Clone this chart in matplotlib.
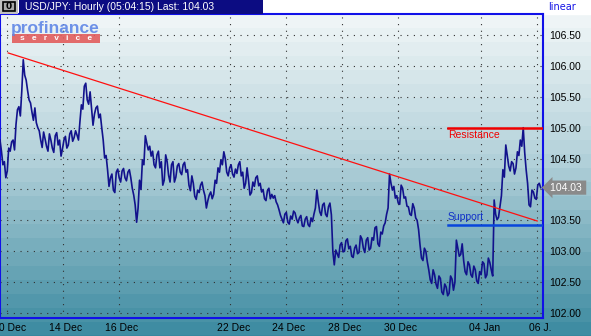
import numpy as np
import matplotlib.pyplot as plt
from matplotlib.patches import Rectangle
from matplotlib.colors import LinearSegmentedColormap
import matplotlib.transforms as mtransforms

# dane: kurs USD/JPY, godziny handlowe od 10 Dec 00:00
t_start = -6.0
t_step = 1.25
# odczyty co 2.5 h
price = [
    104.80, 104.40, 104.19, 104.67, 104.77, 104.64, 105.29, 105.19, 106.10, 105.77,
    105.45, 105.25, 105.32, 105.00, 104.80, 104.93, 104.70, 104.90, 104.67, 104.87,
    104.72, 104.54, 104.80, 104.67, 104.90, 104.78, 104.95, 104.80, 105.37, 105.67,
    105.45, 105.58, 105.04, 105.32, 105.16, 105.00, 104.51, 104.32, 104.19, 103.99,
    104.28, 104.19, 104.30, 104.19, 104.28, 104.19, 103.91, 103.47, 104.15, 104.48,
    104.87, 104.64, 104.54, 104.40, 104.56, 104.35, 104.07, 104.56, 104.23, 104.40,
    104.12, 104.38, 104.28, 104.40, 104.28, 104.07, 104.22, 103.89, 103.99, 104.07,
    103.99, 103.70, 103.91, 103.85, 104.15, 104.35, 104.48, 104.61, 104.28, 104.35,
    104.25, 104.33, 104.40, 104.22, 104.02, 104.35, 103.91, 104.12, 104.19, 104.06,
    103.96, 103.85, 103.98, 103.85, 103.86, 103.80, 103.67, 103.52, 103.60, 103.47,
    103.57, 103.65, 103.52, 103.54, 103.41, 103.52, 103.43, 103.54, 103.60, 103.99,
    103.64, 103.75, 103.60, 103.72, 103.59, 102.78, 102.96, 103.10, 102.99, 103.17,
    103.04, 102.92, 103.05, 102.96, 103.25, 103.05, 103.18, 103.02, 103.22, 103.38,
    103.12, 103.31, 103.41, 103.60, 104.25, 103.99, 103.86, 103.78, 104.07, 103.86,
    103.73, 103.60, 103.77, 103.54, 103.35, 102.89, 103.05, 102.83, 102.54, 102.70,
    102.47, 102.60, 102.34, 102.47, 102.28, 102.60, 102.37, 103.18, 102.92, 103.12,
    102.67, 102.83, 102.62, 102.76, 102.52, 102.67, 102.83, 102.57, 102.89, 102.70,
    103.83, 103.51, 103.73, 104.32, 104.72, 104.38, 104.45, 104.25, 104.61, 104.80,
    105.00, 104.32, 103.75, 103.99, 103.86, 104.07, 104.03,
]
# odczyty posrednie (miedzy kolejnymi punktami powyzej)
price_mid = [
    104.62, 104.45, 104.30, 104.62, 104.80, 105.05, 105.34, 105.60, 105.85, 105.60,
    105.40, 105.12, 105.08, 104.95, 104.68, 104.82, 104.62, 104.80, 104.60, 104.92,
    104.80, 104.66, 104.86, 104.72, 104.95, 104.84, 104.88, 105.10, 105.30, 105.72,
    105.38, 105.30, 105.22, 105.35, 105.22, 104.80, 104.55, 104.05, 104.25, 103.95,
    104.33, 104.12, 104.34, 104.14, 104.32, 104.02, 103.75, 103.70, 104.00, 104.40,
    104.75, 104.70, 104.62, 104.35, 104.62, 104.45, 104.15, 104.45, 104.12, 104.45,
    104.20, 104.42, 104.24, 104.44, 104.32, 103.98, 104.10, 103.84, 103.95, 104.12,
    103.90, 103.82, 103.96, 103.92, 104.10, 104.28, 104.40, 104.50, 104.22, 104.40,
    104.20, 104.26, 104.45, 104.28, 104.10, 104.15, 103.95, 104.05, 104.22, 104.10,
    104.00, 103.82, 104.02, 103.92, 103.90, 103.75, 103.58, 103.46, 103.63, 103.44,
    103.52, 103.62, 103.46, 103.58, 103.40, 103.56, 103.40, 103.48, 103.70, 103.80,
    103.58, 103.78, 103.56, 103.78, 103.00, 103.02, 102.90, 103.14, 103.00, 103.20,
    103.08, 102.90, 103.10, 102.98, 103.20, 102.98, 103.22, 103.05, 103.18, 103.40,
    103.08, 103.28, 103.46, 103.70, 104.10, 104.05, 103.90, 103.76, 104.02, 103.88,
    103.72, 103.58, 103.70, 103.50, 103.10, 102.85, 103.00, 102.70, 102.48, 102.62,
    102.40, 102.56, 102.30, 102.42, 102.32, 102.55, 102.50, 103.05, 102.95, 102.85,
    102.62, 102.78, 102.58, 102.70, 102.48, 102.62, 102.80, 102.62, 102.82, 102.60,
    103.60, 103.55, 103.90, 104.20, 104.55, 104.30, 104.42, 104.35, 104.55, 104.70,
    104.60, 104.10, 103.72, 103.96, 103.84, 104.10,
]
series = []
for a, b in zip(price, price_mid):
    series += [a, b]
series.append(price[-1])
hours = t_start + t_step * np.arange(len(series))

tick_hours = [0, 48, 96, 192, 240, 288, 336, 408, 456]
tick_labels = ['10 Dec', '14 Dec', '16 Dec', '22 Dec', '24 Dec', '28 Dec', '30 Dec', '04 Jan', '06 J.']
y_ticks = [102.0, 102.5, 103.0, 103.5, 104.0, 104.5, 105.0, 105.5, 106.0, 106.5]

trend_t = [1, 456]
trend_p = [106.21, 103.49]
level_t = [379, 461]
resistance = 105.00
support = 103.43
last_price = 104.03
title = 'USD/JPY: Hourly (05:04:15) Last: 104.03'

W, H = 591, 336
fig = plt.figure(figsize=(W / 100, H / 100), dpi=100)

# tlo - gradient schodkowy
bg = fig.add_axes([0, 0, 1, 1])
bg.set_axis_off()
cmap = LinearSegmentedColormap.from_list(
    'pf', [(0.0, '#f4f8f9'), (0.45, '#b4d2da'), (1.0, '#37879e')])
bands = np.floor(np.linspace(0, 1, 336) * 24) / 24
bg.imshow(bands[:, None], aspect='auto', cmap=cmap, extent=[0, 1, 0, 1],
          origin='upper', vmin=0, vmax=1)
bg.set_xlim(0, 1)
bg.set_ylim(0, 1)
bg.add_patch(Rectangle((0, 1 - 14 / H), 1, 14 / H, color='white', zorder=3))

ax = fig.add_axes([0, 18 / H, 543 / W, 304 / H])
ax.set_facecolor('none')
for s in ax.spines.values():
    s.set_color('#1010e8')
    s.set_linewidth(1.5)

ax.set_xlim(-6, 461)
ax.set_ylim(101.92, 106.84)
ax.set_xticks(tick_hours)
ax.set_xticklabels(tick_labels)
ax.set_yticks(y_ticks)
# etykieta 104.00 jest zaslonieta znacznikiem ostatniej ceny
ax.set_yticklabels(['' if abs(v - last_price) < 0.2 else f'{v:.2f}' for v in y_ticks])
ax.tick_params(axis='y', left=False, right=True, labelleft=False, labelright=True,
               length=0, pad=4.5, labelsize=7.5)
ax.tick_params(axis='x', length=0, pad=3.5, labelsize=7.5)
for lab in ax.get_xticklabels() + ax.get_yticklabels():
    lab.set_family('Liberation Sans')
off = mtransforms.ScaledTranslation(3 / 100, 0, fig.dpi_scale_trans)
for lab in ax.get_xticklabels():
    lab.set_transform(lab.get_transform() + off)
ax.grid(True, linestyle=(0, (1, 5)), color='#303030', linewidth=0.8)

ax.plot(hours, series, color='#12128c', linewidth=1.2, zorder=3)
ax.plot(trend_t, trend_p, color='#ff1010', linewidth=0.9, zorder=4)
ax.plot(level_t, [resistance, resistance], color='#f00000', linewidth=1.8, zorder=4)
ax.plot(level_t, [support, support], color='#0846dc', linewidth=1.8, zorder=4)
ax.text(level_t[0], resistance - 0.04, 'Resistance', color='#f00000', fontsize=7.5,
        family='Liberation Sans', va='top', ha='left')
ax.text(level_t[0], support + 0.04, 'Support', color='#1030c8', fontsize=7.5,
        family='Liberation Sans', va='bottom', ha='left')

tr = mtransforms.blended_transform_factory(ax.transAxes, ax.transData)
ax.text(1.012, last_price, f'{last_price:.2f} ', transform=tr, color='white',
        fontsize=7.5, family='Liberation Sans', va='center', ha='left', clip_on=False,
        bbox=dict(boxstyle='larrow,pad=0.2', fc='#8a8a8a', ec='none'))

# naglowek
fig.add_artist(Rectangle((0, 1 - 14 / H), 18 / W, 14 / H, transform=fig.transFigure,
                         fc='#c0c0c0', ec='none'))
fig.add_artist(Rectangle((3 / W, 1 - 11 / H), 12 / W, 9 / H, transform=fig.transFigure,
                         fc='#a8a8a8', ec='black', lw=1.2))
fig.text(9 / W, 1 - 6.5 / H, '0', fontsize=6.5, weight='bold', color='black',
         ha='center', va='center')
fig.add_artist(Rectangle((19 / W, 1 - 14 / H), 244 / W, 14 / H, transform=fig.transFigure,
                         fc='#0c0c82', ec='none'))
fig.text(25 / W, 1 - 7.5 / H, title, color='white', fontsize=7.5,
         family='Liberation Sans', va='center', ha='left')
fig.text(548 / W, 1 - 7.5 / H, 'linear', color='#1414e6', fontsize=7, va='center', ha='left')

# logo
fig.text(11 / W, 1 - 28 / H, 'profinance', color='#5f86e6', fontsize=12.5, weight='bold',
         family='Liberation Sans', va='center', ha='left', alpha=0.9)
fig.add_artist(Rectangle((12 / W, 1 - 43 / H), 88 / W, 9 / H, transform=fig.transFigure,
                         fc='#e25c5c', ec='none', alpha=0.9))
fig.text(56 / W, 1 - 38.5 / H, 's   e   r   v   i   c   e', color='white', fontsize=6,
         weight='bold', family='Liberation Sans', va='center', ha='center')

fig.savefig('out.png', dpi=100)
